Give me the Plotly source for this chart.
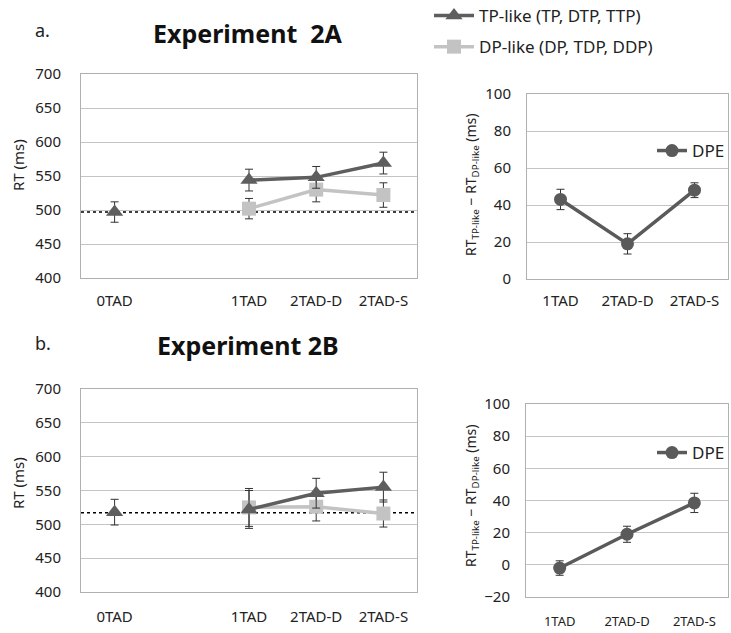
import plotly.graph_objects as go

W, H = 731, 633

# ---------------- data ----------------
cats_left = ["0TAD", " ", "1TAD", "2TAD-D", "2TAD-S"]
cats_right = ["1TAD", "2TAD-D", "2TAD-S"]

# Experiment 2A
a_tp = [497, None, 544, 548, 569]
a_tp_err = [15, 0, 16, 16, 16]
a_dp = [None, None, 502, 530, 522]
a_dp_err = [0, 0, 15, 18, 18]
a_baseline = 497
a_dpe = [43, 19, 48]
a_dpe_err = [5.5, 5.5, 4]

# Experiment 2B
b_tp = [518, None, 522, 546, 555]
b_tp_err = [19, 0, 28, 22, 22]
b_dp = [None, None, 525, 526, 516]
b_dp_err = [0, 0, 28, 21, 20]
b_baseline = 517
b_dpe = [-2, 19, 38.5]
b_dpe_err = [4.5, 5, 6]

left_ticks = [400, 450, 500, 550, 600, 650, 700]

# ---------------- style ----------------
TP_COL = "#5e5e5e"
DP_COL = "#c3c3c3"
DPE_COL = "#5a5a5a"
ERR_COL = "#333333"
GRID = "#c4c4c4"
FONT = "Noto Sans"

fig = go.Figure()


def err(vals):
    return dict(type="data", array=vals, visible=True, color=ERR_COL,
                thickness=1, width=4)


def add_left(tp, tp_err, dp, dp_err, xa, ya, show):
    fig.add_trace(go.Scatter(
        x=cats_left, y=dp, mode="lines+markers", name="DP-like (DP, TDP, DDP)",
        line=dict(color=DP_COL, width=3.5),
        marker=dict(symbol="square", size=14, color=DP_COL),
        error_y=err(dp_err), xaxis=xa, yaxis=ya, showlegend=show,
        legendgroup="dp", legendrank=2))
    fig.add_trace(go.Scatter(
        x=cats_left, y=tp, mode="lines+markers", name="TP-like (TP, DTP, TTP)",
        line=dict(color=TP_COL, width=3.5),
        marker=dict(symbol="triangle-up", size=15, color=TP_COL),
        error_y=err(tp_err), xaxis=xa, yaxis=ya, showlegend=show,
        connectgaps=False, legendgroup="tp", legendrank=1))


def add_right(dpe, dpe_err, xa, ya, leg):
    fig.add_trace(go.Scatter(
        x=cats_right, y=dpe, mode="lines+markers", name="DPE",
        line=dict(color=DPE_COL, width=3.5),
        marker=dict(symbol="circle", size=13, color=DPE_COL),
        error_y=err(dpe_err), xaxis=xa, yaxis=ya, legend=leg))


add_left(a_tp, a_tp_err, a_dp, a_dp_err, "x", "y", True)
add_right(a_dpe, a_dpe_err, "x2", "y2", "legend2")
add_left(b_tp, b_tp_err, b_dp, b_dp_err, "x3", "y3", False)
add_right(b_dpe, b_dpe_err, "x4", "y4", "legend3")


def px_x(p):
    return p / W


def px_y(p):
    return 1 - p / H


axis_common = dict(showgrid=False, showline=True, linecolor="#b0b0b0",
                   linewidth=1, mirror=True, zeroline=False,
                   tickfont=dict(family=FONT, size=15, color="#222"),
                   ticks="")
yaxis_common = dict(showgrid=True, gridcolor=GRID, gridwidth=1,
                    showline=True, linecolor="#b0b0b0", linewidth=1,
                    mirror=True, zeroline=False, ticks="",
                    tickfont=dict(family=FONT, size=15, color="#222"))

fig.update_layout(
    width=W, height=H,
    margin=dict(l=0, r=0, t=0, b=0, autoexpand=False),
    paper_bgcolor="white", plot_bgcolor="white",
    font=dict(family=FONT, color="#222"),
    xaxis=dict(domain=[px_x(81), px_x(417)], anchor="y",
               type="category", categoryorder="array",
               categoryarray=cats_left, range=[-0.5, 4.5],
               ticklabelstandoff=9, **axis_common),
    yaxis=dict(domain=[px_y(278), px_y(74)], anchor="x", range=[400, 700],
               tickvals=left_ticks, ticklabelstandoff=16, **yaxis_common),
    xaxis2=dict(domain=[px_x(527), px_x(728)], anchor="y2",
                type="category", categoryorder="array",
                categoryarray=cats_right, range=[-0.5, 2.5],
                ticklabelstandoff=8, **axis_common),
    yaxis2=dict(domain=[px_y(279), px_y(94)], anchor="x2", range=[0, 100],
                dtick=20, ticklabelstandoff=12, **yaxis_common),
    xaxis3=dict(domain=[px_x(81), px_x(417)], anchor="y3",
                type="category", categoryorder="array",
                categoryarray=cats_left, range=[-0.5, 4.5],
                ticklabelstandoff=11, **axis_common),
    yaxis3=dict(domain=[px_y(592), px_y(389)], anchor="x3", range=[400, 700],
                tickvals=left_ticks, ticklabelstandoff=16, **yaxis_common),
    xaxis4=dict(domain=[px_x(526), px_x(728)], anchor="y4",
                type="category", categoryorder="array",
                categoryarray=cats_right, range=[-0.5, 2.5],
                ticklabelstandoff=12, **axis_common),
    yaxis4=dict(domain=[px_y(597), px_y(404)], anchor="x4", range=[-20, 100],
                dtick=20, ticklabelstandoff=12, **yaxis_common),
    legend=dict(x=px_x(429), y=px_y(-2), xanchor="left", yanchor="top",
                bgcolor="rgba(0,0,0,0)", font=dict(family=FONT, size=17),
                traceorder="grouped", tracegroupgap=6, itemwidth=40),
    legend2=dict(x=px_x(652), y=px_y(151), xanchor="left", yanchor="middle",
                 bgcolor="rgba(0,0,0,0)", font=dict(family=FONT, size=17),
                 itemwidth=30),
    legend3=dict(x=px_x(652), y=px_y(453), xanchor="left", yanchor="middle",
                 bgcolor="rgba(0,0,0,0)", font=dict(family=FONT, size=17),
                 itemwidth=30),
)

fig.layout.xaxis4.tickfont.size = 13

# dotted baseline references
for yref, xref, val in [("y", "x domain", a_baseline), ("y3", "x3 domain", b_baseline)]:
    fig.add_shape(type="line", xref=xref, yref=yref, x0=0, x1=1, y0=val, y1=val,
                  line=dict(color="black", width=1.5, dash="dot"), layer="below")

annots = [
    dict(text="a.", x=px_x(33), y=px_y(30), xanchor="left", yanchor="middle",
         font=dict(size=18)),
    dict(text="<b>Experiment  2A</b>", x=px_x(248), y=px_y(33), xanchor="center",
         yanchor="middle", font=dict(size=25, color="#111")),
    dict(text="b.", x=px_x(33), y=px_y(343), xanchor="left", yanchor="middle",
         font=dict(size=18)),
    dict(text="<b>Experiment 2B</b>", x=px_x(248), y=px_y(345), xanchor="center",
         yanchor="middle", font=dict(size=25, color="#111")),
    dict(text="RT (ms)", x=px_x(18), y=px_y(165), textangle=-90,
         xanchor="center", yanchor="middle", font=dict(size=15)),
    dict(text="RT (ms)", x=px_x(18), y=px_y(483), textangle=-90,
         xanchor="center", yanchor="middle", font=dict(size=15)),
    dict(text="RT<sub>TP-like</sub> − RT<sub>DP-like</sub> (ms)", x=px_x(471),
         y=px_y(184), textangle=-90, xanchor="center", yanchor="middle",
         font=dict(size=14)),
    dict(text="RT<sub>TP-like</sub> − RT<sub>DP-like</sub> (ms)", x=px_x(471),
         y=px_y(495), textangle=-90, xanchor="center", yanchor="middle",
         font=dict(size=14)),
]
for a in annots:
    a.update(xref="paper", yref="paper", showarrow=False)
    a["font"].setdefault("family", FONT)
    fig.add_annotation(**a)

fig.write_html(
    "out.html",
    config={"displayModeBar": False},
    post_script="document.body.style.margin='0';"
                "document.body.style.overflow='hidden';",
)
